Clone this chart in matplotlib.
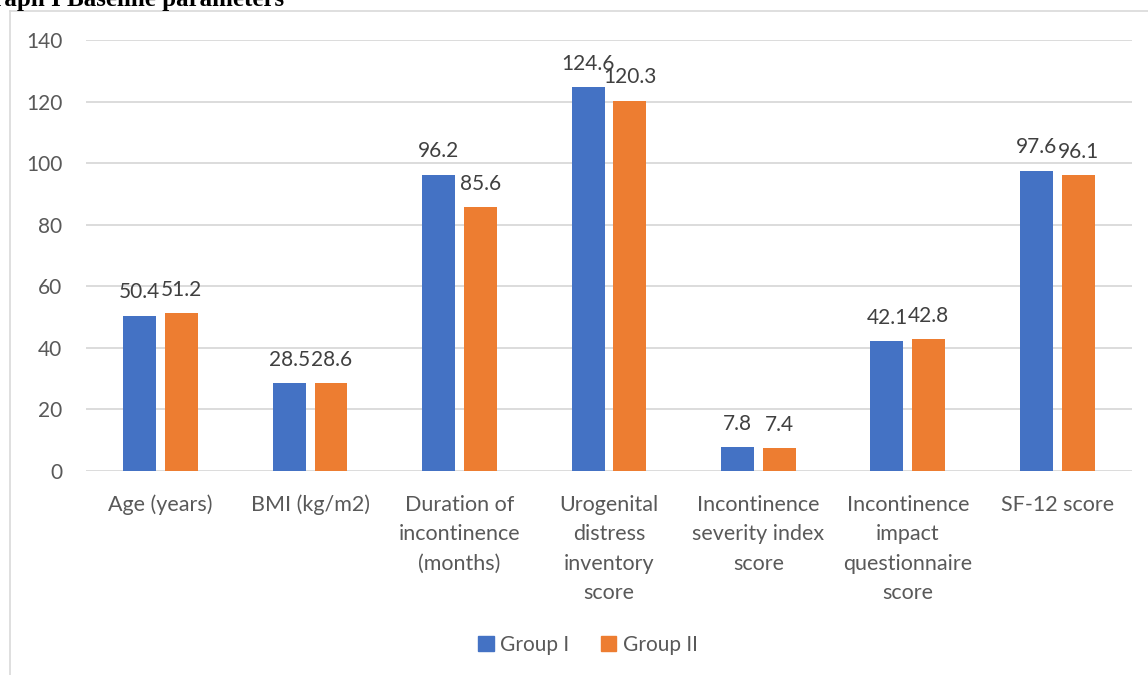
import matplotlib
matplotlib.use("Agg")
import matplotlib.pyplot as plt
import numpy as np
from matplotlib.patches import Patch
from matplotlib.lines import Line2D

categories = [
    "Age (years)",
    "BMI (kg/m2)",
    "Duration of\nincontinence\n(months)",
    "Urogenital\ndistress\ninventory\nscore",
    "Incontinence\nseverity index\nscore",
    "Incontinence\nimpact\nquestionnaire\nscore",
    "SF-12 score",
]
group1 = [50.4, 28.5, 96.2, 124.6, 7.8, 42.1, 97.6]
group2 = [51.2, 28.6, 85.6, 120.3, 7.4, 42.8, 96.1]
series_names = ["Group I", "Group II"]
yticks = [0, 20, 40, 60, 80, 100, 120, 140]

BLUE = "#4472C4"
ORANGE = "#ED7D31"
TICK_GRAY = "#595959"
LABEL_GRAY = "#404040"
GRID = "#D9D9D9"
FONT = "Lato"

W, H = 1148, 675
fig = plt.figure(figsize=(W / 100, H / 100), dpi=100)

# chart frame lines (top and left edge of the embedded chart area)
fig.add_artist(Line2D([10 / W, 1], [1 - 11 / H, 1 - 11 / H], color=GRID, lw=1.2))
fig.add_artist(Line2D([10 / W, 10 / W], [0, 1 - 11 / H], color=GRID, lw=1.2))

# caption above the chart, partly running off the left edge
fig.text(284 / W, 1 - 6 / H, "Graph I Baseline parameters", ha="right",
         va="baseline", fontsize=18, fontweight="bold", family="Liberation Serif",
         color="black")

ax = fig.add_axes([86 / W, 1 - 471 / H, (1132 - 86) / W, (471 - 40) / H])
x = np.arange(len(categories))
bw = 0.22
off = 0.14
b1 = ax.bar(x - off, group1, bw, color=BLUE, label=series_names[0], zorder=3)
b2 = ax.bar(x + off, group2, bw, color=ORANGE, label=series_names[1], zorder=3)

for bars, vals in ((b1, group1), (b2, group2)):
    for rect, v in zip(bars, vals):
        ax.annotate(f"{v}", (rect.get_x() + rect.get_width() / 2, v),
                    xytext=(0, 12.5), textcoords="offset points",
                    ha="center", va="baseline", fontsize=15, family=FONT,
                    color=LABEL_GRAY)

ax.set_xlim(-0.5, len(categories) - 0.5)
ax.set_ylim(0, 140)
ax.set_yticks(yticks)
ax.yaxis.grid(True, color=GRID, lw=1.3, zorder=0)
ax.set_axisbelow(True)
for s in ("top", "right", "left", "bottom"):
    ax.spines[s].set_visible(False)
ax.tick_params(axis="both", length=0, labelsize=15, labelcolor=TICK_GRAY)
ax.tick_params(axis="y", pad=17)
ax.set_xticks(x)
ax.set_xticklabels(categories, fontsize=15.5, family=FONT, color=TICK_GRAY,
                   linespacing=1.6, va="top")
ax.tick_params(axis="x", pad=17)
for t in ax.get_yticklabels():
    t.set_family(FONT)

handles = [Patch(color=BLUE), Patch(color=ORANGE)]
fig.legend(handles, series_names, loc="center", bbox_to_anchor=(588 / W, 1 - 645 / H),
           ncol=2, frameon=False, prop={"family": FONT, "size": 15},
           handlelength=0.75, handleheight=0.75, handletextpad=0.3,
           columnspacing=1.5, labelcolor=TICK_GRAY)

fig.savefig("out.png", dpi=100)
